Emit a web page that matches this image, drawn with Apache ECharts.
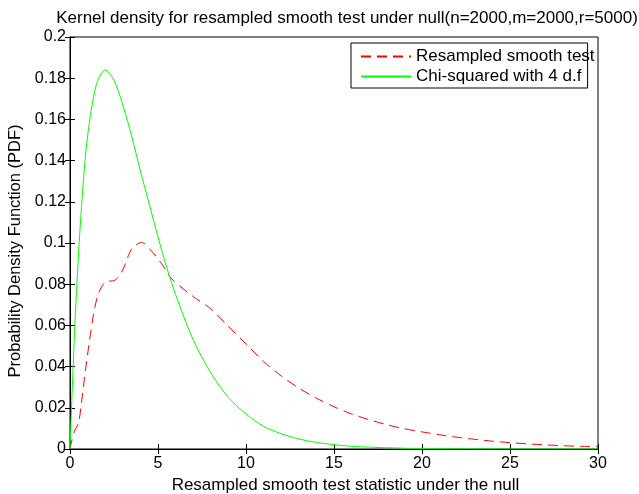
<!DOCTYPE html>
<html>
<head>
<meta charset="utf-8">
<script src="https://cdn.jsdelivr.net/npm/echarts@6/dist/echarts.min.js"></script>
<style>
  html, body { margin: 0; padding: 0; background: #fff; }
  #main { width: 639px; height: 494px; }
</style>
</head>
<body>
<div id="main"></div>
<script>
// values
var resX = [0, 0.1, 0.25, 0.48, 0.63, 0.86, 1.1, 1.33, 1.6, 2.0, 2.56, 3.0, 3.5, 4.07, 4.64, 5.2, 5.78,
    7, 8, 9, 10, 11, 12, 13, 14, 15, 16, 17, 18, 19, 20, 21, 22, 23, 24, 25, 26, 27, 28, 29, 30];
var resY = [0, 0.0039, 0.0087, 0.0124, 0.021, 0.037, 0.052, 0.065, 0.075, 0.081, 0.082, 0.087, 0.097, 0.1003, 0.096, 0.09, 0.0826,
    0.074, 0.068, 0.0595, 0.051, 0.0425, 0.0355, 0.0296, 0.0247, 0.0205, 0.017, 0.0142, 0.0118, 0.0098, 0.0083,
    0.0069, 0.0057, 0.0047, 0.0038, 0.0031, 0.0025, 0.0020, 0.0016, 0.0013, 0.0011];

var chiX = [0, 0.25, 0.5, 0.75, 1, 1.5, 2, 2.5, 3, 3.5, 4, 4.5, 5, 5.5, 6, 7, 8, 9, 10, 11, 12, 13, 14, 15, 16, 17, 18, 20, 22, 25, 30];
var chiY = [0, 0.055, 0.097, 0.129, 0.152, 0.177, 0.184, 0.179, 0.167, 0.152, 0.135, 0.119, 0.103, 0.088, 0.075, 0.053, 0.037,
    0.025, 0.017, 0.011, 0.0074, 0.0049, 0.0032, 0.0021, 0.0013, 0.0009, 0.0006, 0.0002, 0.0001, 0, 0];

var xTicks = [0, 5, 10, 15, 20, 25, 30];
var yTicks = [0, 0.02, 0.04, 0.06, 0.08, 0.1, 0.12, 0.14, 0.16, 0.18, 0.2];

function pairs(xs, ys) {
    return xs.map(function (x, i) { return [x, ys[i]]; });
}

var font = 'Liberation Sans, Arial, sans-serif';
var chart = echarts.init(document.getElementById('main'));

var axisBase = {
    type: 'value',
    axisLine: { show: true, lineStyle: { color: '#000', width: 1 } },
    axisTick: { show: true, inside: true, length: 5, lineStyle: { color: '#000' } },
    splitLine: { show: false }
};

option = {
    backgroundColor: '#fff',
    animation: false,
    title: {
        text: 'Kernel density for resampled smooth test under null(n=2000,m=2000,r=5000)',
        left: 347,
        top: 8,
        padding: 0,
        textAlign: 'center',
        textStyle: { fontFamily: font, fontSize: 17, lineHeight: 20, fontWeight: 'normal', color: '#000' }
    },
    grid: {
        left: 70, right: 41, top: 37, bottom: 45,
        containLabel: false, outerBoundsMode: 'none',
        show: true, borderColor: '#000', borderWidth: 1
    },
    legend: {
        orient: 'vertical',
        left: 351,
        top: 43,
        padding: [5, -7, 3, 9],
        itemGap: 3,
        itemWidth: 50,
        itemHeight: 14,
        borderColor: '#000',
        borderWidth: 1,
        borderRadius: 0,
        backgroundColor: '#fff',
        itemStyle: { opacity: 0 },
        textStyle: { fontFamily: font, fontSize: 17, lineHeight: 17, color: '#000' },
        data: ['Resampled smooth test', 'Chi-squared with 4 d.f']
    },
    xAxis: [
        Object.assign({}, axisBase, {
            min: 0, max: 30, interval: 5,
            name: 'Resampled smooth test statistic under the null',
            nameLocation: 'middle',
            nameGap: 24,
            nameTextStyle: { fontFamily: font, fontSize: 17, color: '#000', padding: [0, 0, 0, 23] },
            axisLabel: { fontFamily: font, fontSize: 16, color: '#000', margin: 7 }
        }),
        Object.assign({}, axisBase, {
            position: 'top', min: 0, max: 30, interval: 5,
            axisLabel: { show: false }
        })
    ],
    yAxis: [
        Object.assign({}, axisBase, {
            min: 0, max: 0.2, interval: 0.02,
            name: 'Probability Density Function (PDF)',
            nameLocation: 'middle',
            nameGap: 44,
            nameTextStyle: { fontFamily: font, fontSize: 16.5, color: '#000', padding: [0, 16, 0, 0] },
            axisLabel: {
                fontFamily: font, fontSize: 16, color: '#000', margin: 4,
                formatter: function (v) { return String(+v.toFixed(2)); }
            }
        }),
        Object.assign({}, axisBase, {
            position: 'right', min: 0, max: 0.2, interval: 0.02,
            axisLabel: { show: false }
        })
    ],
    series: [
        {
            name: 'Resampled smooth test',
            type: 'line',
            data: pairs(resX, resY),
            smooth: 0.3,
            symbol: 'none',
            lineStyle: { color: '#ff0000', width: 1, type: [10, 6] },
            itemStyle: { color: '#ff0000' }
        },
        {
            name: 'Chi-squared with 4 d.f',
            type: 'line',
            data: pairs(chiX, chiY),
            smooth: 0.3,
            symbol: 'none',
            lineStyle: { color: '#00ff00', width: 1 },
            itemStyle: { color: '#00ff00' }
        }
    ]
};
chart.setOption(option);
</script>
</body>
</html>
